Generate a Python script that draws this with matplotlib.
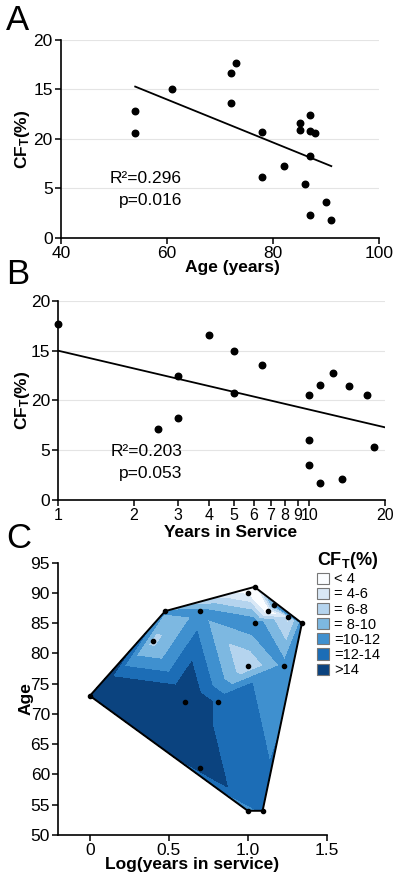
import numpy as np
import matplotlib
matplotlib.use("Agg")
import matplotlib.pyplot as plt
from matplotlib.patches import Patch, Rectangle
import matplotlib.tri as mtri

plt.rcParams['font.family'] = ['Liberation Sans', 'DejaVu Sans']
plt.rcParams['mathtext.fontset'] = 'custom'
plt.rcParams['mathtext.rm'] = 'Liberation Sans'
plt.rcParams['mathtext.bf'] = 'Liberation Sans:bold'
plt.rcParams['mathtext.it'] = 'Liberation Sans:italic'

# ---------------- Panel A data: age vs CF_T ----------------
age_a = [54, 54, 61, 72, 73, 72, 78, 78, 82, 85, 85, 87, 87, 88, 87, 86, 90, 87, 91]
cf_a = [12.8, 10.6, 15.05, 16.7, 17.7, 13.6, 10.65, 6.1, 7.25, 11.6, 10.9, 12.45,
        10.75, 10.55, 8.27, 5.4, 3.64, 2.26, 1.76]

# ---------------- Panel B data: years in service vs CF_T ----------------
yrs_b = [1, 2.5, 3, 3, 4, 5, 5, 6.5, 10, 11, 12.4, 14.4, 17, 18, 10, 10, 11, 13.5, 22]
cf_b = [17.65, 7.15, 12.4, 8.2, 16.6, 15.0, 10.7, 13.5, 10.5, 11.5, 12.7, 11.4,
        10.56, 5.3, 6.0, 3.5, 1.7, 2.1, 10.9]

# ---------------- Panel C data: log(years), age, CF_T ----------------
logyrs_c = [0.0, 0.477, 0.398, 0.70, 0.602, 0.813, 0.70, 1.0, 1.043, 1.043,
            1.0, 1.13, 1.167, 1.258, 1.343, 1.23, 1.0, 1.094]
age_c = [73, 87, 82, 87, 72, 72, 61, 90, 91, 85, 78, 87, 88, 86, 85, 78, 54, 54]
cf_c = [17.7, 10.3, 7.2, 10.7, 16.6, 13.5, 15.0, 3.5, 1.7, 11.5, 6.0, 2.1,
        10.5, 5.3, 10.9, 10.6, 10.5, 12.7]

levels_c = [0, 4, 6, 8, 10, 12, 14, 100]
level_labels = ['< 4', '= 4-6', '= 6-8', '= 8-10', '=10-12', '=12-14', '>14']
level_colors = ['#fbfdff', '#d9e8f6', '#b5d4ee', '#7db8e1', '#3f90cf', '#1c6db6', '#0b437f']

ytick_vals = [0, 5, 10, 15, 20]
ytick_labels = ['0', '5', '20', '15', '20']

W, H = 400, 882
fig = plt.figure(figsize=(W / 100, H / 100), dpi=100)
FS = 12.5


def ax_px(left, right, top, bottom):
    return fig.add_axes([left / W, 1 - bottom / H, (right - left) / W, (bottom - top) / H])


def style(ax):
    for s in ['top', 'right']:
        ax.spines[s].set_visible(False)
    for s in ['left', 'bottom']:
        ax.spines[s].set_linewidth(1.2)
    ax.tick_params(direction='out', length=4, width=1.1, labelsize=FS, pad=2)


# ---------------- Panel A ----------------
axA = ax_px(61, 379, 40, 237.7)
style(axA)
axA.set_xlim(40, 100)
axA.set_ylim(0, 20)
axA.set_xticks([40, 60, 80, 100])
axA.set_yticks(ytick_vals)
axA.set_yticklabels(ytick_labels)
for v in ytick_vals[1:]:
    axA.axhline(v, color='#e4e4e4', lw=0.8, zorder=0)
axA.scatter(age_a, cf_a, s=22, color='black', zorder=3)
pa = np.polyfit(age_a, cf_a, 1)
xa = np.array([min(age_a), max(age_a)])
axA.plot(xa, np.polyval(pa, xa), color='black', lw=1.3)
axA.text(0.38, 0.30, 'R²=0.296', transform=axA.transAxes, ha='right', va='center', fontsize=FS)
axA.text(0.38, 0.19, 'p=0.016', transform=axA.transAxes, ha='right', va='center', fontsize=FS)
axA.set_xlabel('Age (years)', fontsize=FS, fontweight='bold')
axA.xaxis.set_label_coords(0.54, -0.113)
axA.set_ylabel(r'$\mathbf{CF_T(\%)}$', fontsize=FS)
axA.yaxis.set_label_coords(-0.091, 0.5)

# ---------------- Panel B ----------------
axB = ax_px(58.3, 385, 300.7, 500)
style(axB)
axB.set_xscale('log')
axB.set_xlim(1, 20)
axB.set_ylim(0, 20)
bt = [1, 2, 3, 4, 5, 6, 7, 8, 9, 10, 20]
axB.xaxis.set_minor_locator(matplotlib.ticker.NullLocator())
axB.set_xticks(bt)
axB.set_xticklabels([str(t) for t in bt])
axB.tick_params(axis='x', labelsize=11.5)
axB.set_yticks(ytick_vals)
axB.set_yticklabels(ytick_labels)
for v in ytick_vals[1:]:
    axB.axhline(v, color='#e4e4e4', lw=0.8, zorder=0)
scB = axB.scatter(yrs_b, cf_b, s=22, color='black', zorder=3)
scB.set_clip_path(Rectangle((-0.05, -0.05), 1.05, 1.1, transform=axB.transAxes))
pb = np.polyfit(np.log10(yrs_b), cf_b, 1)
xb = np.array([1, 20])
axB.plot(xb, np.polyval(pb, np.log10(xb)), color='black', lw=1.3)
axB.text(0.379, 0.242, 'R²=0.203', transform=axB.transAxes, ha='right', va='center', fontsize=FS)
axB.text(0.379, 0.135, 'p=0.053', transform=axB.transAxes, ha='right', va='center', fontsize=FS)
axB.set_xlabel('Years in Service', fontsize=FS, fontweight='bold')
axB.xaxis.set_label_coords(0.528, -0.125)
axB.set_ylabel(r'$\mathbf{CF_T(\%)}$', fontsize=FS)
axB.yaxis.set_label_coords(-0.080, 0.5)

# ---------------- Panel C ----------------
axC = ax_px(58.3, 326.7, 562.7, 835)
style(axC)
axC.set_xlim(-0.2, 1.5)
axC.set_ylim(50, 95)
axC.set_xticks([0, 0.5, 1.0, 1.5])
axC.set_xticklabels(['0', '0.5', '1.0', '1.5'])
axC.set_yticks(np.arange(50, 96, 5))
# triangulate in display-like (equal pixel) space, interpolate in data space
xs = np.asarray(logyrs_c) * 158.2
ys = np.asarray(age_c) * 6.05
tri_s = mtri.Triangulation(xs, ys)
tri = mtri.Triangulation(logyrs_c, age_c, triangles=tri_s.triangles)
axC.tricontourf(tri, cf_c, levels=levels_c, colors=level_colors, zorder=1)

# convex hull outline
pts = sorted(set(zip(logyrs_c, age_c)))


def cross(o, a, b):
    return (a[0] - o[0]) * (b[1] - o[1]) - (a[1] - o[1]) * (b[0] - o[0])


lower, upper = [], []
for p in pts:
    while len(lower) >= 2 and cross(lower[-2], lower[-1], p) <= 0:
        lower.pop()
    lower.append(p)
for p in reversed(pts):
    while len(upper) >= 2 and cross(upper[-2], upper[-1], p) <= 0:
        upper.pop()
    upper.append(p)
hull = lower[:-1] + upper[:-1] + [lower[0]]
hx, hy = zip(*hull)
axC.plot(hx, hy, color='black', lw=1.4, zorder=3)
axC.scatter(logyrs_c, age_c, s=9, color='black', zorder=4)
axC.set_xlabel('Log(years in service)', fontsize=FS, fontweight='bold')
axC.xaxis.set_label_coords(0.5, -0.081)
axC.set_ylabel('Age', fontsize=FS, fontweight='bold')
axC.yaxis.set_label_coords(-0.094, 0.5)

handles = [Patch(facecolor=c, edgecolor='#777777', linewidth=0.8) for c in level_colors]
leg = fig.legend(handles, level_labels, loc='upper left',
                 bbox_to_anchor=(317 / W, 1 - 550 / H), frameon=False,
                 fontsize=10.5, handlelength=0.8, handleheight=0.8,
                 labelspacing=0.08, handletextpad=0.35, borderaxespad=0,
                 borderpad=0, title=r'$\mathbf{CF_T(\%)}$', title_fontsize=13)
leg._legend_box.align = 'left'

# panel letters
fig.text(6 / W, 1 - 20 / H, 'A', fontsize=25, va='center', ha='left')
fig.text(6 / W, 1 - 274 / H, 'B', fontsize=25, va='center', ha='left')
fig.text(6 / W, 1 - 538 / H, 'C', fontsize=25, va='center', ha='left')

fig.savefig('out.png', dpi=100)
